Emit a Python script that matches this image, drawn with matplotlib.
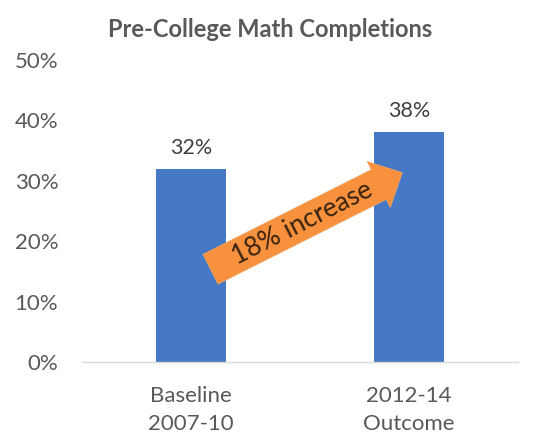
import matplotlib
matplotlib.use("Agg")
import matplotlib.pyplot as plt
from matplotlib.patches import FancyArrowPatch

# chart data
categories = ["Baseline\n2007-10", "2012-14\nOutcome"]
values = [32, 38]
bar_labels = ["32%", "38%"]
yticks = [0, 10, 20, 30, 40, 50]
ytick_labels = ["0%", "10%", "20%", "30%", "40%", "50%"]
title = "Pre-College Math Completions"
arrow_text = "18% increase"

plt.rcParams["font.family"] = ["Lato", "DejaVu Sans"]

fig = plt.figure(figsize=(5.35, 4.38), dpi=100)
ax = fig.add_axes([0.153, 0.1735, 0.815, 0.6895])

x = list(range(len(values)))
ax.bar(x, values, width=0.32, color="#4679C5", zorder=2)
for xi, v, lab in zip(x, values, bar_labels):
    ax.annotate(lab, (xi, v), xytext=(0, 8), textcoords="offset points",
                ha="center", va="bottom", fontsize=15.5, color="#404040")

ax.set_xlim(-0.5, 1.5)
ax.set_ylim(0, 50)
ax.set_yticks(yticks)
ax.set_yticklabels(ytick_labels, fontsize=16, color="#595959")
ax.set_xticks(x)
ax.set_xticklabels(categories, fontsize=16, color="#595959", linespacing=1.55)
ax.tick_params(axis="both", length=0)
ax.tick_params(axis="y", pad=17)
ax.tick_params(axis="x", pad=17)

for s in ["left", "right", "top"]:
    ax.spines[s].set_visible(False)
ax.spines["bottom"].set_color("#D9D9D9")
ax.spines["bottom"].set_linewidth(1.0)

fig.text(0.505, 0.932, title, ha="center", va="center", fontsize=17,
         fontweight="bold", color="#595959")

# arrow from first bar to second bar
tail = (0.09, values[0] * 0.48)
tip = (0.97, values[1] * 0.825)
arr = FancyArrowPatch(tail, tip, arrowstyle="simple,head_length=19,head_width=37,tail_width=24",
                      mutation_scale=1, shrinkA=0, shrinkB=0, fc="#F7913D", ec="#F3A560",
                      lw=0.5, zorder=3)
ax.add_patch(arr)
ax.text(0.51, 22.9, arrow_text, ha="center", va="center", rotation=27,
        fontsize=19, color="#3A2410", zorder=4, rotation_mode="anchor")

fig.savefig("out.png", dpi=100)
